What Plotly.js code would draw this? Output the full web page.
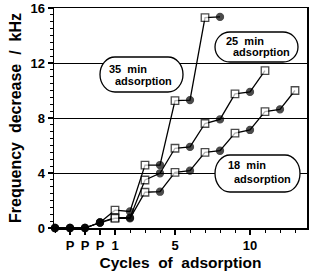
<!DOCTYPE html>
<html><head><meta charset="utf-8">
<script src="https://cdn.plot.ly/plotly-3.0.1.min.js"></script>
<style>html,body{margin:0;padding:0;background:#fff}#c{width:312px;height:277px}</style>
</head><body><div id="c"></div>
<script>
// Data (cycle number; values <=0 are preconditioning "P" cycles)
var cyclesA = [-3,-2,-1,0,1,2,3,4,5,6,7,8];
var min35 = [0,0,0,0.4,1.3,1.2,4.58,4.58,9.26,9.3,15.3,15.35];
var cyclesB = [-3,-2,-1,0,1,2,3,4,5,6,7,8,9,10,11];
var min25 = [0,0,0,0.4,0.75,0.75,3.49,3.98,5.8,5.9,7.6,7.9,9.75,9.9,11.44];
var cyclesC = [-3,-2,-1,0,1,2,3,4,5,6,7,8,9,10,11,12,13];
var min18 = [0,0,0,0.4,0.7,0.7,2.6,2.64,4.05,4.17,5.5,5.62,6.9,7.13,8.46,8.63,10.0];
var tickPos = [-2,-1,0,1,5,10];
var tickText = ["P","P","P","1","5","10"];
var labels = ["35 min", "25 min", "18 min"];

// plot area in pixels
var L=54, R=307, T=8, B=228;
function px(x){return (x-L)/(R-L);}
function py(y){return (B-y)/(B-T);}

var traces = [];
[[cyclesA,min35],[cyclesB,min25],[cyclesC,min18]].forEach(function(s){
  var xs=s[0], ys=s[1];
  traces.push({x:xs,y:ys,mode:'lines',type:'scatter',line:{color:'#000',width:1.3},hoverinfo:'skip',showlegend:false,cliponaxis:false});
  var sym = xs.map(function(v){return (v>=1 && v%2===1)?'square':'circle';});
  var col = xs.map(function(v){return (v>=1 && v%2===1)?'#fff':'#000';});
  var sz = xs.map(function(v){return (v>=1 && v%2===1)?7.5:7;});
  traces.push({x:xs,y:ys,mode:'markers',type:'scatter',marker:{symbol:sym,color:col,size:sz,line:{color:'#000',width:1.3}},showlegend:false,cliponaxis:false});
});

function pill(x0,y0,x1,y1){
  var r=15, k=0.552;
  var mid=(y0+y1)/2, h=(y1-y0)/2;
  function P(x,y){return px(x).toFixed(4)+','+py(y).toFixed(4);}
  return 'M'+P(x0+r,y0)+' L'+P(x1-r,y0)+
    ' C'+P(x1-r+r*k,y0)+' '+P(x1,mid-h*k)+' '+P(x1,mid)+
    ' C'+P(x1,mid+h*k)+' '+P(x1-r+r*k,y1)+' '+P(x1-r,y1)+
    ' L'+P(x0+r,y1)+
    ' C'+P(x0+r-r*k,y1)+' '+P(x0,mid+h*k)+' '+P(x0,mid)+
    ' C'+P(x0,mid-h*k)+' '+P(x0+r-r*k,y0)+' '+P(x0+r,y0)+' Z';
}
var boxes = [[100,57,183,92],[215,32,298,62],[215,155,300,192]];
var line1 = [[107,69],[224,41],[226,165]];
var line2 = [[113,81],[231,52],[232,179]];
var shapes = boxes.map(function(b){return {type:'path',xref:'paper',yref:'paper',path:pill(b[0],b[1],b[2],b[3]),fillcolor:'#fff',line:{color:'#000',width:1.3},layer:'above'};});
var f = {family:'Liberation Sans, Arial, sans-serif',size:11,color:'#000',weight:'bold'};
var ann = [];
for (var i=0;i<3;i++){
  ann.push({xref:'paper',yref:'paper',x:px(line1[i][0]),y:py(line1[i][1]),xanchor:'left',yanchor:'middle',text:labels[i].replace(' ','\u00a0\u00a0'),showarrow:false,font:f});
  ann.push({xref:'paper',yref:'paper',x:px(line2[i][0]),y:py(line2[i][1]),xanchor:'left',yanchor:'middle',text:'adsorption',showarrow:false,font:f});
}

var tf = {family:'Liberation Sans, Arial, sans-serif',size:13,color:'#000',weight:'bold'};
var layout = {
  width:312,height:277,
  margin:{l:L,r:312-R,t:T,b:277-B},
  paper_bgcolor:'#fff',plot_bgcolor:'#fff',
  xaxis:{range:[-3.067,13.8],tickmode:'array',tickvals:tickPos,ticktext:tickText,ticks:'outside',ticklen:5,tickwidth:1.3,tickcolor:'#000',
    minor:{dtick:1,tick0:0,ticks:'outside',ticklen:3,tickwidth:1,tickcolor:'#000',showgrid:false},
    showgrid:false,zeroline:false,showline:true,linecolor:'#000',linewidth:1.5,mirror:true,tickfont:tf,
    title:{text:'Cycles\u00a0\u00a0of\u00a0\u00a0adsorption',font:{family:'Liberation Sans, Arial, sans-serif',size:15.5,color:'#000',weight:'bold'},standoff:5}},
  yaxis:{range:[0,16],tickmode:'linear',tick0:0,dtick:4,ticks:'outside',ticklen:5,tickwidth:1.3,tickcolor:'#000',
    minor:{dtick:0.5,ticks:'outside',ticklen:3,tickwidth:1,tickcolor:'#000',showgrid:false},
    showgrid:true,gridcolor:'#000',gridwidth:1,zeroline:false,showline:true,linecolor:'#000',linewidth:1.5,mirror:true,tickfont:tf,
    title:{text:'Frequency\u00a0\u00a0decrease\u00a0\u00a0/\u00a0\u00a0kHz',font:{family:'Liberation Sans, Arial, sans-serif',size:16,color:'#000',weight:'bold'},standoff:5}},
  shapes:shapes,annotations:ann
};
Plotly.newPlot('c',traces,layout,{staticPlot:true,displayModeBar:false});
</script></body></html>
